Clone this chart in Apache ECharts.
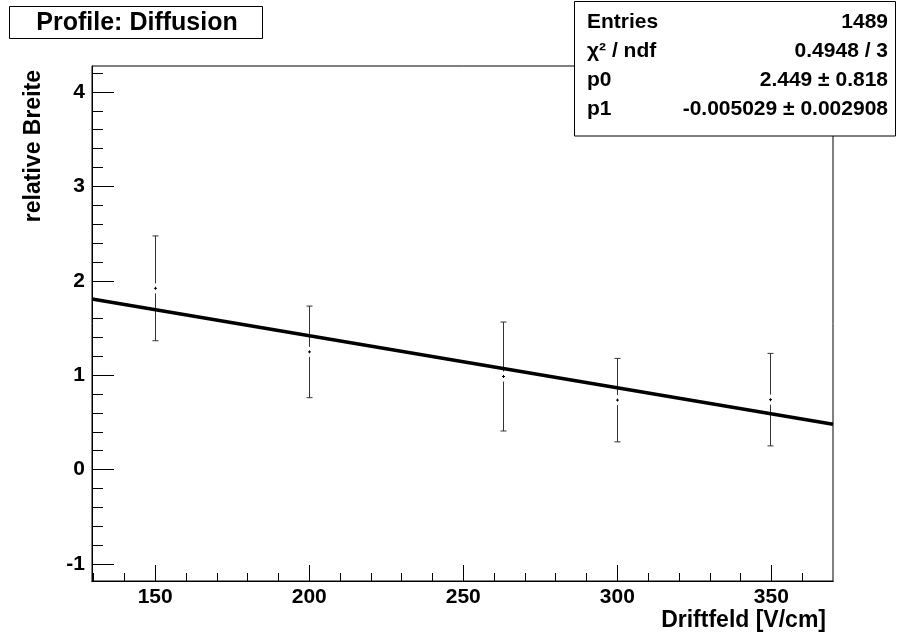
<!DOCTYPE html>
<html>
<head>
<meta charset="utf-8">
<script src="https://cdn.jsdelivr.net/npm/echarts@6/dist/echarts.min.js"></script>
<style>
html,body{margin:0;padding:0;background:#fff;}
#chart{width:897px;height:637px;}
</style>
</head>
<body>
<div id="chart"></div>
<script>
// ---- data ----
const xValues = [150, 200, 263, 300, 349.5];
const yValues = [1.92, 1.247, 0.986, 0.736, 0.741];
const yErrors = [0.555, 0.485, 0.577, 0.442, 0.49];
const fitX = [129.5, 370];
const fitY = [1.806, 0.48];
const xMajorTicks = [150, 200, 250, 300, 350];
const xMinorTicks = [130, 140, 160, 170, 180, 190, 210, 220, 230, 240, 260, 270, 280, 290, 310, 320, 330, 340, 360];
const yMajorTicks = [-1, 0, 1, 2, 3, 4];
const yMinorTicks = [-0.8, -0.6, -0.4, -0.2, 0.2, 0.4, 0.6, 0.8, 1.2, 1.4, 1.6, 1.8, 2.2, 2.4, 2.6, 2.8, 3.2, 3.4, 3.6, 3.8, 4.2];
const xRange = [129.5, 370];
const yRange = [-1.18, 4.275];
const titleText = 'Profile: Diffusion';
const xTitle = 'Driftfeld [V/cm]';
const yTitle = 'relative Breite';
const statsLabels = ['Entries', 'χ² / ndf', 'p0', 'p1'];
const statsValues = ['1489', '0.4948 / 3', '2.449 ± 0.818', '-0.005029 ± 0.002908'];

const FONT = '"Liberation Sans", Arial, Helvetica, sans-serif';
const chart = echarts.init(document.getElementById('chart'), null, {renderer: 'canvas'});

const errData = xValues.map((x, i) => [x, yValues[i], yErrors[i]]);
const fitData = fitX.map((x, i) => [x, fitY[i]]);

function axisBase(extra) {
  return Object.assign({
    type: 'value', min: xRange[0], max: xRange[1],
    axisLine: {show: true, onZero: false, lineStyle: {color: '#000', width: 1}},
    splitLine: {show: false}
  }, extra);
}

const statsGraphics = [];
statsGraphics.push({type: 'rect', shape: {x: 574.5, y: 1.5, width: 321, height: 134.5},
  style: {fill: '#fff', stroke: '#000', lineWidth: 1}, z: 100});
statsLabels.forEach((t, i) => {
  statsGraphics.push({type: 'text', x: 587, y: 22.5 + i * 29, z: 101,
    style: {text: t, fill: '#000', font: 'bold 21px ' + FONT, textAlign: 'left', textVerticalAlign: 'middle'}});
  statsGraphics.push({type: 'text', x: 888, y: 22.5 + i * 29, z: 101,
    style: {text: statsValues[i], fill: '#000', font: 'bold 21px ' + FONT, textAlign: 'right', textVerticalAlign: 'middle'}});
});

const option = {
  animation: false,
  backgroundColor: '#fff',
  grid: {left: 92, right: 64, top: 66, bottom: 56, show: true, borderColor: '#000', borderWidth: 1,
    backgroundColor: 'transparent', containLabel: false, outerBoundsMode: 'none'},
  xAxis: [
    axisBase({position: 'bottom',
      axisTick: {show: true, inside: true, length: 16, customValues: xMajorTicks, lineStyle: {color: '#000'}},
      axisLabel: {show: true, customValues: xMajorTicks, margin: 6, color: '#000',
        fontFamily: FONT, fontWeight: 'bold', fontSize: 21}}),
    axisBase({position: 'bottom',
      axisTick: {show: true, inside: true, length: 8, customValues: xMinorTicks, lineStyle: {color: '#000'}},
      axisLabel: {show: false}})
  ],
  yAxis: [
    {type: 'value', min: yRange[0], max: yRange[1], position: 'left',
      axisLine: {show: true, onZero: false, lineStyle: {color: '#000'}},
      splitLine: {show: false},
      axisTick: {show: true, inside: true, length: 22, customValues: yMajorTicks, lineStyle: {color: '#000'}},
      axisLabel: {show: true, customValues: yMajorTicks, margin: 7, color: '#000',
        fontFamily: FONT, fontWeight: 'bold', fontSize: 21}},
    {type: 'value', min: yRange[0], max: yRange[1], position: 'left',
      axisLine: {show: false}, splitLine: {show: false},
      axisTick: {show: true, inside: true, length: 11, customValues: yMinorTicks, lineStyle: {color: '#000'}},
      axisLabel: {show: false}}
  ],
  graphic: [
    {type: 'rect', shape: {x: 9.5, y: 6.5, width: 253, height: 32}, style: {fill: '#fff', stroke: '#000', lineWidth: 1}, z: 100},
    {type: 'text', x: 137, y: 23, z: 101, style: {text: titleText, fill: '#000', font: 'bold 25px ' + FONT, textAlign: 'center', textVerticalAlign: 'middle'}},
    {type: 'text', x: 826, y: 621, style: {text: xTitle, fill: '#000', font: 'bold 23px ' + FONT, textAlign: 'right', textVerticalAlign: 'middle'}},
    {type: 'text', x: 34, y: 70, rotation: Math.PI / 2, style: {text: yTitle, fill: '#000', font: 'bold 23px ' + FONT, textAlign: 'right', textVerticalAlign: 'middle'}}
  ].concat(statsGraphics),
  series: [
    {
      type: 'custom', xAxisIndex: 0, yAxisIndex: 0, data: errData, z: 3,
      renderItem: function (params, api) {
        const x = api.value(0), y = api.value(1), e = api.value(2);
        const top = api.coord([x, y + e]);
        const mid = api.coord([x, y]);
        const bot = api.coord([x, y - e]);
        const px = Math.round(mid[0]) + 0.5;
        const gap = 5, cap = 3, m = 1.5;
        const ls = {stroke: '#333', lineWidth: 1};
        return {type: 'group', children: [
          {type: 'line', shape: {x1: px, y1: top[1], x2: px, y2: mid[1] - gap}, style: ls},
          {type: 'line', shape: {x1: px, y1: mid[1] + gap, x2: px, y2: bot[1]}, style: ls},
          {type: 'line', shape: {x1: px - cap, y1: top[1], x2: px + cap, y2: top[1]}, style: ls},
          {type: 'line', shape: {x1: px - cap, y1: bot[1], x2: px + cap, y2: bot[1]}, style: ls},
          {type: 'line', shape: {x1: px - m, y1: mid[1], x2: px + m, y2: mid[1]}, style: {stroke: '#000', lineWidth: 1}},
          {type: 'line', shape: {x1: px, y1: mid[1] - m, x2: px, y2: mid[1] + m}, style: {stroke: '#000', lineWidth: 1}}
        ]};
      }
    },
    {
      type: 'line', xAxisIndex: 0, yAxisIndex: 0, data: fitData, z: 5,
      showSymbol: false, symbol: 'none', lineStyle: {color: '#000', width: 3.5}, silent: true
    }
  ]
};
chart.setOption(option);
</script>
</body>
</html>
